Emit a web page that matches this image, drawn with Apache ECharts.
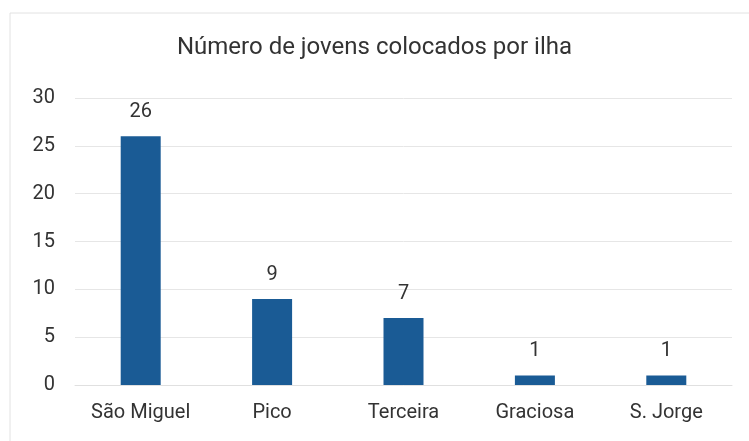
<!DOCTYPE html>
<html>
<head>
<meta charset="utf-8">
<script src="https://cdn.jsdelivr.net/npm/echarts@6/dist/echarts.min.js"></script>
<style>
  html, body { margin: 0; padding: 0; background: #fff; }
  #chart { width: 749px; height: 441px; }
</style>
</head>
<body>
<div id="chart"></div>
<script>
var ilhas = ['São Miguel', 'Pico', 'Terceira', 'Graciosa', 'S. Jorge'];
var jovens = [26, 9, 7, 1, 1];
var yTicks = [0, 5, 10, 15, 20, 25, 30];

var chart = echarts.init(document.getElementById('chart'));
chart.setOption({
  animation: false,
  title: {
    text: 'Número de jovens colocados por ilha',
    left: 'center',
    top: 31,
    textStyle: {
      fontFamily: 'Roboto, sans-serif',
      fontWeight: 'normal',
      fontSize: 24,
      color: '#333'
    }
  },
  graphic: [{
    type: 'rect',
    shape: { x: 10, y: 13, width: 745, height: 440 },
    style: { fill: 'none', stroke: '#e2e2e2', lineWidth: 1 },
    silent: true
  }],
  grid: { left: 75, right: 17, top: 98, bottom: 56 },
  xAxis: {
    type: 'category',
    data: ilhas,
    axisLine: { show: true, lineStyle: { color: '#e0e0e0' } },
    axisTick: { show: false },
    axisLabel: {
      interval: 0,
      fontFamily: 'Roboto, sans-serif',
      fontSize: 20,
      color: '#333',
      margin: 18
    }
  },
  yAxis: {
    type: 'value',
    min: yTicks[0],
    max: yTicks[yTicks.length - 1],
    interval: 5,
    axisLine: { show: false },
    axisTick: { show: false },
    splitLine: { lineStyle: { color: '#e6e6e6' } },
    axisLabel: {
      fontFamily: 'Roboto, sans-serif',
      fontSize: 20,
      color: '#333',
      margin: 20
    }
  },
  series: [{
    type: 'bar',
    data: jovens,
    barWidth: 40,
    itemStyle: { color: '#1a5b95' },
    label: {
      show: true,
      position: 'top',
      distance: 14,
      fontFamily: 'Roboto, sans-serif',
      fontSize: 20,
      color: '#333'
    }
  }]
});
</script>
</body>
</html>
